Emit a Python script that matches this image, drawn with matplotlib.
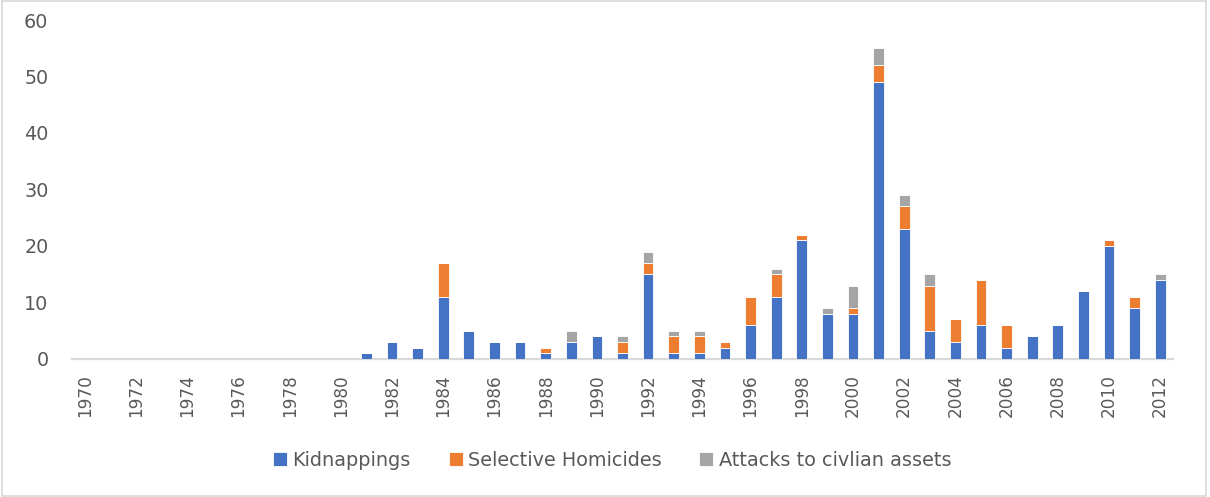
import numpy as np
import matplotlib
matplotlib.use("Agg")
import matplotlib.pyplot as plt

# --------------------------------------------------
#  Data (yearly counts)
# --------------------------------------------------
years = list(range(1970, 2013))

kidnappings = [0, 0, 0, 0, 0, 0, 0, 0, 0, 0, 0,      # 1970-1980
               1, 3, 2, 11, 5, 3, 3, 1, 3, 4,        # 1981-1990
               1, 15, 1, 1, 2, 6, 11, 21, 8, 8,      # 1991-2000
               49, 23, 5, 3, 6, 2, 4, 6, 12, 20,     # 2001-2010
               9, 14]                                # 2011-2012

homicides = [0, 0, 0, 0, 0, 0, 0, 0, 0, 0, 0,
             0, 0, 0, 6, 0, 0, 0, 1, 0, 0,
             2, 2, 3, 3, 1, 5, 4, 1, 0, 1,
             3, 4, 8, 4, 8, 4, 0, 0, 0, 1,
             2, 0]

attacks = [0, 0, 0, 0, 0, 0, 0, 0, 0, 0, 0,
           0, 0, 0, 0, 0, 0, 0, 0, 2, 0,
           1, 2, 1, 1, 0, 0, 1, 0, 1, 4,
           3, 2, 2, 0, 0, 0, 0, 0, 0, 0,
           0, 1]

series_names = ["Kidnappings", "Selective Homicides", "Attacks to civlian assets"]
colors = ["#4472C4", "#ED7D31", "#A5A5A5"]

# --------------------------------------------------
#  Figure
# --------------------------------------------------
fig = plt.figure(figsize=(12.1, 4.97), dpi=100)
ax = fig.add_axes([72 / 1210, 1 - 359 / 497, 1101 / 1210, 339 / 497])

x = np.arange(len(years))
k = np.array(kidnappings)
h = np.array(homicides)
a = np.array(attacks)

bw = 0.42
ax.bar(x, k, width=bw, color=colors[0], edgecolor="white", linewidth=0.6, label=series_names[0], zorder=3)
ax.bar(x, h, width=bw, bottom=k, color=colors[1], edgecolor="white", linewidth=0.6, label=series_names[1], zorder=3)
ax.bar(x, a, width=bw, bottom=k + h, color=colors[2], edgecolor="white", linewidth=0.6, label=series_names[2], zorder=3)

ax.set_xlim(-0.5, len(years) - 0.5)
ax.set_ylim(0, 60)
ax.set_yticks(range(0, 61, 10))
ax.set_xticks(x[::2])
ax.set_xticklabels([str(y) for y in years[::2]], rotation=90, fontsize=12.2, color="#595959")
ax.tick_params(axis="y", labelsize=13.8, labelcolor="#595959", length=0, pad=17)
ax.tick_params(axis="x", length=0, pad=11)

for side in ["top", "right", "left"]:
    ax.spines[side].set_visible(False)
ax.spines["bottom"].set_color("#d9d9d9")
ax.spines["bottom"].set_linewidth(1.6)

# legend at bottom
fig.legend(loc="center", bbox_to_anchor=(0.506, 0.074), ncol=3, frameon=False,
           fontsize=13.9, labelcolor="#595959",
           handlelength=0.72, handleheight=0.72, handletextpad=0.28, columnspacing=1.95)

# light border round the figure
fig.patches.append(plt.Rectangle((0.002, 0.003), 0.995, 0.994, transform=fig.transFigure,
                                 fill=False, edgecolor="#d9d9d9", linewidth=1.2))

fig.savefig("out.png", dpi=100)
plt.close(fig)
